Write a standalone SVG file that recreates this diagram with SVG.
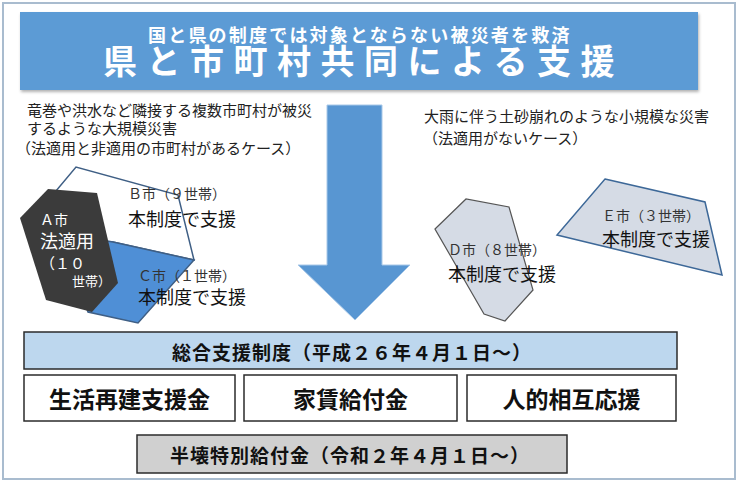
<svg xmlns="http://www.w3.org/2000/svg" width="740" height="484" viewBox="0 0 740 484">
<defs>
<style>
text{font-family:"Noto Sans CJK JP","Noto Sans CJK SC",sans-serif;}
.frame{fill:#ffffff;stroke:#a9bccf;stroke-width:2;}
.banner{fill:#5b9bd5;}
.sub{fill:#ffffff;font-size:18px;font-weight:bold;letter-spacing:2.2px;}
.title{fill:#ffffff;font-size:34px;font-weight:bold;letter-spacing:9.5px;}
.note{fill:#222222;font-size:15px;}
.city{fill:#333333;font-size:14px;}
.sup{fill:#111111;font-size:18px;}
.box{stroke:#2b2b2b;stroke-width:1.5;}
.boxtxt{fill:#111111;font-weight:bold;}
.arrow{fill:#5896d2;stroke:#a8c8e8;stroke-width:1;}
</style>
<filter id="sh" x="-5%" y="-10%" width="110%" height="130%">
<feDropShadow dx="1" dy="2" stdDeviation="1.5" flood-color="#000000" flood-opacity="0.3"/>
</filter>
</defs>
<rect class="frame" x="3" y="3" width="732" height="476"/>
<g id="header">
<rect class="banner" x="20" y="12" width="678" height="78" filter="url(#sh)"/>
<text class="sub" x="148" y="42">国と県の制度では対象とならない被災者を救済</text>
<text class="title" x="103" y="74">県と市町村共同による支援</text>
</g>
<g id="note-left">
<text class="note" x="27" y="116">竜巻や洪水など隣接する複数市町村が被災</text>
<text class="note" x="27" y="134">するような大規模災害</text>
<text class="note" x="16" y="154">（法適用と非適用の市町村があるケース）</text>
</g>
<g id="note-right">
<text class="note" x="424" y="122">大雨に伴う土砂崩れのような小規模な災害</text>
<text class="note" x="423" y="144">（法適用がないケース）</text>
</g>
<g id="connectors">
<polygon class="arrow" points="327,105 382,105 382,265 410,265 355,320 298,265 327,265"/>
</g>
<g id="city-b">
<polygon points="40,210 76,167 178,195 194,260 113,242 60,240" fill="#ffffff" stroke="#3f5f85" stroke-width="1.5"/>
<text class="city" x="128" y="199">Ｂ市（９世帯）</text>
<text class="sup" x="128" y="226">本制度で支援</text>
</g>
<g id="city-c">
<polygon points="90,238 113,242 194,260 138,323 88,312 80,290" fill="#4f8fd6" stroke="#3f5f85" stroke-width="1.5"/>
<text class="city" x="138" y="281">Ｃ市（１世帯）</text>
<text class="sup" x="138" y="304">本制度で支援</text>
</g>
<g id="city-a">
<polygon points="48,189 97,193 118,283 92,312 46,300 20,218" fill="#3b3b3b"/>
<text fill="#ffffff" font-size="14" x="40" y="225">Ａ市</text>
<text fill="#ffffff" font-size="18" x="40" y="248">法適用</text>
<text fill="#ffffff" font-size="15" x="40" y="269">（１０</text>
<text fill="#ffffff" font-size="13" x="72" y="286">世帯）</text>
</g>
<g id="city-d">
<polygon points="435,229 466,199 509,207 533,290 505,321 484,314" fill="#d5dbe5" stroke="#555555" stroke-width="1.2"/>
<text class="city" x="448" y="255">Ｄ市（８世帯）</text>
<text class="sup" x="448" y="281">本制度で支援</text>
</g>
<g id="city-e">
<polygon points="605,179 705,202 722,275 557,235" fill="#d5dbe5" stroke="#3d6898" stroke-width="1.5"/>
<text class="city" x="602" y="221">Ｅ市（３世帯）</text>
<text class="sup" x="602" y="246">本制度で支援</text>
</g>
<g id="sogo">
<rect class="box" x="24" y="332" width="653" height="37" fill="#bdd7ee"/>
<text class="boxtxt" font-size="19" letter-spacing="1" x="172" y="360">総合支援制度（平成２６年４月１日～）</text>
</g>
<g id="seikatsu">
<rect class="box" x="24" y="375" width="211" height="46" fill="#ffffff"/>
<text class="boxtxt" font-size="23" text-anchor="middle" x="129.5" y="408">生活再建支援金</text>
</g>
<g id="yachin">
<rect class="box" x="244" y="375" width="213" height="46" fill="#ffffff"/>
<text class="boxtxt" font-size="23" text-anchor="middle" x="350.5" y="408">家賃給付金</text>
</g>
<g id="jinteki">
<rect class="box" x="467" y="375" width="209" height="46" fill="#ffffff"/>
<text class="boxtxt" font-size="23" text-anchor="middle" x="571.5" y="408">人的相互応援</text>
</g>
<g id="hankai">
<rect class="box" x="137" y="435" width="430" height="38" fill="#d0d0d0"/>
<text class="boxtxt" font-size="19" letter-spacing="1" x="170" y="463">半壊特別給付金（令和２年４月１日～）</text>
</g>
</svg>
